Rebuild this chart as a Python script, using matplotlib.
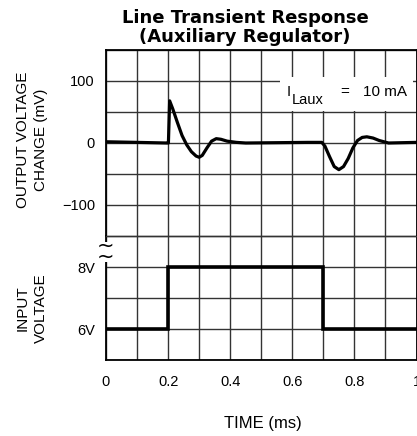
import matplotlib
matplotlib.use("Agg")
import matplotlib.pyplot as plt
from matplotlib.patches import Rectangle
import numpy as np

plt.rcParams['font.family'] = ['Liberation Sans', 'DejaVu Sans']

# Output voltage change (mV) vs time (ms)
out_t = [0.00, 0.10, 0.195, 0.201, 0.205, 0.215, 0.23, 0.245, 0.26, 0.275, 0.29, 0.30,
         0.31, 0.325, 0.34, 0.355, 0.37, 0.39, 0.42, 0.45, 0.55, 0.65, 0.695,
         0.705, 0.72, 0.735, 0.75, 0.765, 0.78, 0.795, 0.81, 0.825, 0.84, 0.86,
         0.88, 0.91, 1.0]
out_mv = [2, 1, 0, 0, 68, 55, 33, 12, -3, -14, -21, -23,
          -20, -8, 3, 7, 6, 3, 1, 0, 0.5, 1, 1,
          -5, -22, -38, -43, -38, -25, -8, 4, 9, 10, 8,
          4, 0, 1]

# Input voltage step (V)
in_t = [0.0, 0.2, 0.2, 0.7, 0.7, 1.0]
in_v = [6, 6, 8, 8, 6, 6]

x_ticks = [0, 0.2, 0.4, 0.6, 0.8, 1.0]
x_ticklabels = ["0", "0.2", "0.4", "0.6", "0.8", "1"]
out_ticks = [-150, -100, -50, 0, 50, 100, 150]
out_ticklabels = ["", "\u2212100", "", "0", "", "100", ""]
in_ticks = [5, 6, 7, 8, 9]
in_ticklabels = ["", "6V", "", "8V", ""]

W, H = 417, 436
fig = plt.figure(figsize=(W / 100, H / 100), dpi=100)


def fx(px):
    return px / W


def fy(py):
    return 1 - py / H


left = fx(106)
right = fx(416.5)
top_y = fy(50)
split_y = fy(236)
bot_y = fy(360)

ax1 = fig.add_axes([left, split_y, right - left, top_y - split_y])
ax2 = fig.add_axes([left, bot_y, right - left, split_y - bot_y], sharex=ax1)

grid_kw = dict(color='#333333', linewidth=1.0)
for ax in (ax1, ax2):
    ax.set_xlim(0, 1.0)
    ax.set_xticks(np.arange(0, 1.01, 0.1), minor=True)
    ax.grid(True, which='both', axis='x', **grid_kw)
    ax.grid(True, which='major', axis='y', **grid_kw)
    ax.tick_params(which='both', length=0, labelsize=10.5)
    for s in ax.spines.values():
        s.set_linewidth(1.3)
        s.set_color('black')
    ax.set_axisbelow(True)

ax1.set_ylim(-150, 150)
ax1.set_yticks(out_ticks)
ax1.set_yticklabels(out_ticklabels)
ax1.tick_params(axis='x', labelbottom=False)
ax1.tick_params(axis='y', pad=8)
ax1.spines['bottom'].set_visible(False)
ax1.plot(out_t, out_mv, color='black', linewidth=2.3, solid_joinstyle='round', zorder=3)

ax2.set_ylim(5, 9)
ax2.set_yticks(in_ticks)
ax2.set_yticklabels(in_ticklabels)
ax2.tick_params(axis='y', pad=8)
ax2.tick_params(axis='x', pad=11)
ax2.set_xticks(x_ticks)
ax2.set_xticklabels(x_ticklabels)
ax2.spines['top'].set_linewidth(1.0)
ax2.spines['top'].set_color('#333333')
ax2.plot(in_t, in_v, color='black', linewidth=2.6, solid_joinstyle='miter', zorder=3)

# Label box with white background covering grid
ax1.add_patch(Rectangle((0.561, 0.672), 0.429, 0.183, transform=ax1.transAxes,
                        facecolor='white', edgecolor='none', zorder=2.5))
fig.text(fx(287), fy(91.5), "I", ha='left', va='center', fontsize=10.5, zorder=6)
fig.text(fx(291.5), fy(100.5), "Laux", ha='left', va='center', fontsize=10.5, zorder=6)
fig.text(fx(345), fy(92), "=", ha='center', va='center', fontsize=11, zorder=6)
fig.text(fx(407), fy(92.5), "10 mA", ha='right', va='center', fontsize=11, zorder=6)

# Axis break symbol
fig.patches.append(Rectangle((fx(101), fy(262)), 10 / W, 20 / H, transform=fig.transFigure,
                             facecolor='white', edgecolor='none', zorder=5))
fig.text(fx(105.5), fy(246), "~", fontsize=15, ha='center', va='center', zorder=6,
         family='DejaVu Sans')
fig.text(fx(105.5), fy(257), "~", fontsize=15, ha='center', va='center', zorder=6,
         family='DejaVu Sans')

# Titles and labels
fig.text(fx(245), fy(18), "Line Transient Response", ha='center', va='center',
         fontsize=13, fontweight='bold', family='DejaVu Sans')
fig.text(fx(245), fy(36.5), "(Auxiliary Regulator)", ha='center', va='center',
         fontsize=13, fontweight='bold', family='DejaVu Sans')
fig.text(fx(32), fy(140), "OUTPUT VOLTAGE\nCHANGE (mV)", rotation=90, ha='center',
         va='center', multialignment='center', fontsize=11, linespacing=1.35)
fig.text(fx(32), fy(308), "INPUT\nVOLTAGE", rotation=90, ha='center',
         va='center', multialignment='center', fontsize=11, linespacing=1.35)
fig.text(fx(263), fy(423), "TIME (ms)", ha='center', va='center', fontsize=12)

fig.savefig("out.png", dpi=100)
